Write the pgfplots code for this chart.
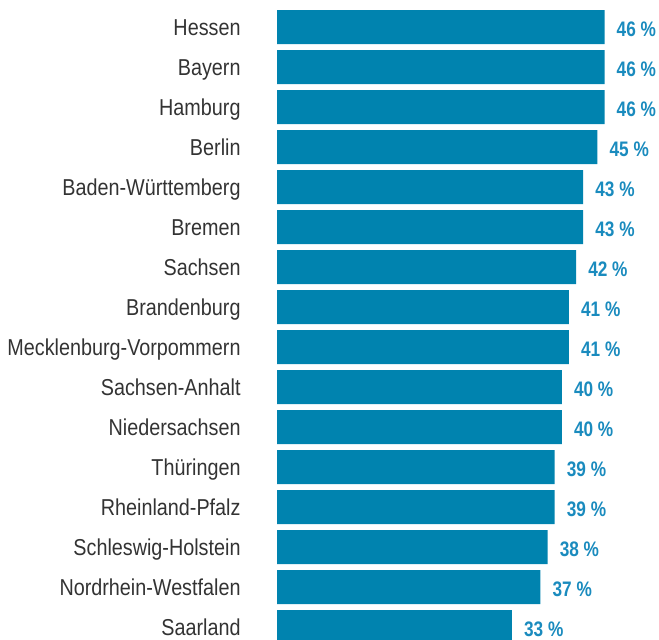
\documentclass[border=0pt]{standalone}
\usepackage{pgfplots}
\pgfplotsset{compat=1.18}
\usepackage{fontspec}
\usetikzlibrary{calc}
\newfontfamily\catfont[FakeStretch=0.86]{Liberation Sans}
\newfontfamily\valfont[FakeStretch=0.82]{Liberation Sans Bold}
\definecolor{barblue}{HTML}{0083AF}
\definecolor{labblue}{HTML}{1A8BBE}
\definecolor{txtgray}{HTML}{333333}
\begin{document}
\begin{tikzpicture}
\begin{axis}[
  xbar,
  x=7.12bp, y=40bp,
  y dir=reverse,
  xmin=0, xmax=53.65,
  ymin=-0.675, ymax=15.3,
  enlargelimits=false,
  bar width=34bp,
  axis line style={draw=none},
  tick style={draw=none},
  xtick=\empty,
  ytick={0,...,15},
  yticklabels={Hessen,Bayern,Hamburg,Berlin,Baden-Württemberg,Bremen,Sachsen,Brandenburg,Mecklenburg-Vorpommern,Sachsen-Anhalt,Niedersachsen,Thüringen,Rheinland-Pfalz,Schleswig-Holstein,Nordrhein-Westfalen,Saarland},
  yticklabel style={font=\catfont\fontsize{23bp}{26bp}\selectfont, text=txtgray, inner sep=0pt, anchor=base east, xshift=-32bp, yshift=-8.5bp},
  point meta=x,
  nodes near coords={\pgfmathprintnumber{\pgfplotspointmeta}~\%},
  every node near coord/.append style={font=\valfont\fontsize{21bp}{23bp}\selectfont, text=labblue, anchor=base west, inner sep=0pt, xshift=12bp, yshift=-9bp},
  /pgf/number format/assume math mode=true,
]
\addplot[fill=barblue, draw=none] coordinates {
(46,0) (46,1) (46,2) (45,3) (43,4) (43,5) (42,6) (41,7) (41,8) (40,9) (40,10) (39,11) (39,12) (38,13) (37,14) (33,15)
};
\end{axis}
\pgfresetboundingbox
\path[use as bounding box] ($(current axis.south west)+(-277bp,0)$) rectangle (current axis.north east);
\end{tikzpicture}
\end{document}
